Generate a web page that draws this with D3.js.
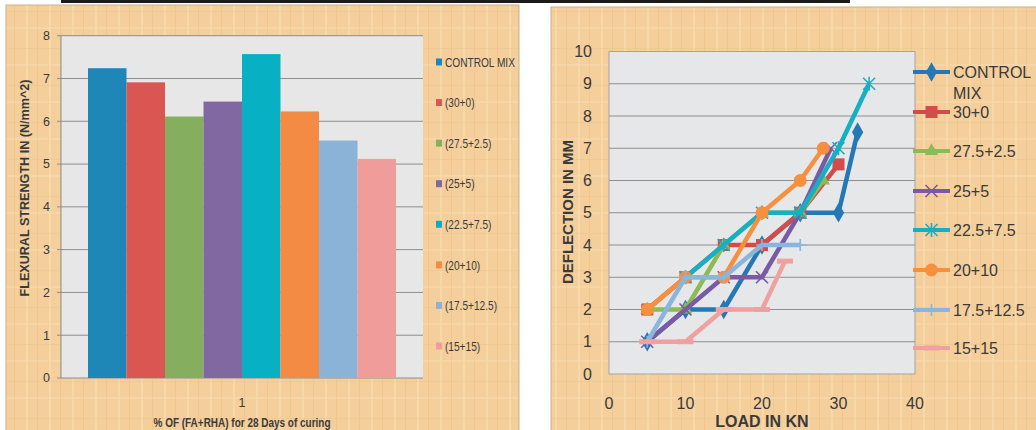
<!DOCTYPE html>
<html>
<head>
<meta charset="utf-8">
<script src="https://cdn.jsdelivr.net/npm/d3@7"></script>
<style>
  body { margin: 0; background: #fff; }
  text { fill: #3a3a3a; }
</style>
</head>
<body>
<div id="chart"></div>
<script>
// ---- left chart data (flexural strength, 28 days) ----
const barSeries = ["CONTROL MIX", "(30+0)", "(27.5+2.5)", "(25+5)", "(22.5+7.5)", "(20+10)", "(17.5+12.5)", "(15+15)"];
const barValues = [7.24, 6.91, 6.11, 6.46, 7.57, 6.23, 5.55, 5.12];
const barGroups = ["1"];
const barTicks = [0, 1, 2, 3, 4, 5, 6, 7, 8];
const barColors = ["#1f87b8", "#d95653", "#86ae5f", "#8268a0", "#07b1c3", "#f48b44", "#8ab3d7", "#f09c9b"];

// ---- right chart data (load vs deflection) ----
const lineNames = ["CONTROL MIX", "30+0", "27.5+2.5", "25+5", "22.5+7.5", "20+10", "17.5+12.5", "15+15"];
const loadControl = [5, 10, 15, 20, 25, 30, 32.5];
const deflControl = [1, 2, 2, 4, 5, 5, 7.5];
const load30 = [5, 10, 15, 20, 25, 30];
const defl30 = [2, 3, 4, 4, 5, 6.5];
const load27 = [5, 10, 15, 20, 25, 28];
const defl27 = [2, 2, 4, 5, 5, 6];
const load25 = [5, 10, 15, 20, 25, 29];
const defl25 = [1, 2, 3, 3, 5, 7];
const load22 = [10, 15, 20, 25, 30, 34];
const defl22 = [3, 4, 5, 5, 7, 9];
const load20 = [5, 10, 15, 20, 25, 28];
const defl20 = [2, 3, 3, 5, 6, 7];
const load17 = [5, 10, 15, 20, 25];
const defl17 = [1, 3, 3, 4, 4];
const load15 = [5, 10, 15, 20, 23];
const defl15 = [1, 1, 2, 2, 3.5];
const lineColors = ["#2578b6", "#d24c49", "#8cba55", "#7b5aa5", "#17afc3", "#f68f3e", "#89b5de", "#f1a0a0"];
const lineMarkers = ["diamond", "square", "triangle", "x", "star", "circle", "plus", "dash"];
const loadTicks = [0, 10, 20, 30, 40];
const deflTicks = [0, 1, 2, 3, 4, 5, 6, 7, 8, 9, 10];

const W = 1036, H = 430;
const svg = d3.select("#chart").append("svg").attr("width", W).attr("height", H);

// wood-ish backdrop
const defs = svg.append("defs");
const pat = defs.append("pattern").attr("id", "wood").attr("patternUnits", "userSpaceOnUse")
  .attr("width", 23).attr("height", 37);
pat.append("rect").attr("width", 23).attr("height", 37).attr("fill", "#f4cf9c");
pat.append("rect").attr("x", 3).attr("width", 2).attr("height", 37).attr("fill", "#f8dcb0").attr("opacity", 0.7);
pat.append("rect").attr("x", 14).attr("width", 1).attr("height", 37).attr("fill", "#eabf86").attr("opacity", 0.6);
pat.append("rect").attr("y", 11).attr("width", 23).attr("height", 1).attr("fill", "#ecc38c").attr("opacity", 0.5);
pat.append("rect").attr("y", 27).attr("width", 23).attr("height", 2).attr("fill", "#f8dbb0").attr("opacity", 0.5);

svg.append("rect").attr("x", 6).attr("y", 5).attr("width", 513).attr("height", 430)
  .attr("fill", "url(#wood)").attr("stroke", "#c9b08c").attr("stroke-width", 1);
svg.append("rect").attr("x", 551).attr("y", 7).attr("width", 490).attr("height", 430)
  .attr("fill", "url(#wood)").attr("stroke", "#c9b08c").attr("stroke-width", 1);
svg.append("rect").attr("x", 61).attr("y", 0).attr("width", 789).attr("height", 3).attr("fill", "#1b1b1b");

// ================= LEFT: bar chart =================
(function () {
  const left = 61, right = 423, top = 35.7, bottom = 378;
  const font = "Liberation Sans, Arial, sans-serif";
  const g = svg.append("g");

  const y = d3.scaleLinear().domain([0, 8]).range([bottom, top]);
  const x0 = d3.scaleBand().domain(barGroups).range([left, right]).paddingOuter(0.0877).paddingInner(0);
  const x1 = d3.scaleBand().domain(barSeries).range([0, x0.bandwidth()]);

  g.append("rect").attr("x", left).attr("y", top).attr("width", right - left).attr("height", bottom - top)
    .attr("fill", "#e7e7e8");

  g.selectAll("line.grid").data(barTicks).enter().append("line")
    .attr("x1", left - 4).attr("x2", right)
    .attr("y1", d => y(d)).attr("y2", d => y(d))
    .attr("stroke", "#8d8d8d").attr("stroke-width", 1);
  g.append("line").attr("x1", left).attr("x2", left).attr("y1", top).attr("y2", bottom)
    .attr("stroke", "#8d8d8d");

  g.selectAll("text.yt").data(barTicks).enter().append("text")
    .attr("x", 50).attr("y", d => y(d)).attr("dy", "0.35em")
    .attr("text-anchor", "end").attr("font-family", font)
    .attr("font-size", 12.5).text(d => d);

  barGroups.forEach(grp => {
    g.selectAll("rect.bar").data(barSeries).enter().append("rect")
      .attr("x", d => x0(grp) + x1(d)).attr("width", x1.bandwidth())
      .attr("y", (d, i) => y(barValues[i])).attr("height", (d, i) => bottom - y(barValues[i]))
      .attr("fill", (d, i) => barColors[i]);
    g.append("text").attr("x", x0(grp) + x0.bandwidth() / 2).attr("y", 403).attr("dy", "0.35em")
      .attr("text-anchor", "middle").attr("font-family", font)
      .attr("font-size", 12.5).text(grp);
  });

  g.append("text").attr("x", 242).attr("y", 427).attr("text-anchor", "middle")
    .attr("font-family", font).attr("font-weight", "bold")
    .attr("font-size", 13).attr("textLength", 177).attr("lengthAdjust", "spacingAndGlyphs")
    .text("% OF (FA+RHA) for 28 Days of curing");

  g.append("text").attr("transform", "translate(29,188) rotate(-90)").attr("text-anchor", "middle")
    .attr("font-family", font).attr("font-weight", "bold")
    .attr("font-size", 12.5).attr("textLength", 217).attr("lengthAdjust", "spacingAndGlyphs")
    .text("FLEXURAL STRENGTH IN (N/mm^2)");

  // legend
  const ly = d3.scalePoint().domain(barSeries).range([62, 346]);
  const lg = g.selectAll("g.leg").data(barSeries).enter().append("g")
    .attr("transform", d => "translate(436," + ly(d) + ")");
  lg.append("rect").attr("x", 0).attr("y", -3.5).attr("width", 6).attr("height", 7)
    .attr("fill", (d, i) => barColors[i]);
  lg.append("text").attr("transform", "translate(9,0) scale(0.75,1)").attr("dy", "0.35em")
    .attr("font-family", font).attr("font-size", 13.5).text(d => d);
})();

// ================= RIGHT: line chart =================
(function () {
  const left = 609, right = 915, top = 51.5, bottom = 374;
  const g = svg.append("g");
  const x = d3.scaleLinear().domain([0, 40]).range([left, right]);
  const y = d3.scaleLinear().domain([0, 10]).range([bottom, top]);

  g.append("rect").attr("x", left).attr("y", top).attr("width", right - left).attr("height", bottom - top)
    .attr("fill", "#e6e7e8").attr("stroke", "#a3a3a3");
  g.selectAll("line.grid").data(deflTicks.slice(1, -1)).enter().append("line")
    .attr("x1", left).attr("x2", right).attr("y1", d => y(d)).attr("y2", d => y(d))
    .attr("stroke", "#8e8e8e");

  const font = "Liberation Sans, Arial, sans-serif";
  g.selectAll("text.yt").data(deflTicks).enter().append("text")
    .attr("x", 592).attr("y", d => y(d)).attr("dy", "0.35em").attr("text-anchor", "end")
    .attr("font-family", font).attr("font-size", 16).text(d => d);
  g.selectAll("text.xt").data(loadTicks).enter().append("text")
    .attr("x", d => x(d)).attr("y", 403).attr("dy", "0.35em").attr("text-anchor", "middle")
    .attr("font-family", font).attr("font-size", 16).text(d => d);
  g.append("text").attr("x", 762).attr("y", 427).attr("text-anchor", "middle")
    .attr("font-family", font).attr("font-weight", "bold").attr("font-size", 16).text("LOAD IN KN");
  g.append("text").attr("transform", "translate(573,212) rotate(-90)").attr("text-anchor", "middle")
    .attr("font-family", font).attr("font-weight", "bold").attr("font-size", 15).text("DEFLECTION IN MM");

  const loads = [loadControl, load30, load27, load25, load22, load20, load17, load15];
  const defls = [deflControl, defl30, defl27, defl25, defl22, defl20, defl17, defl15];
  const series = lineNames.map((name, i) => ({
    name, color: lineColors[i], marker: lineMarkers[i],
    values: loads[i].map((l, j) => ({ x: l, y: defls[i][j] }))
  }));

  function drawMarker(sel, kind, color) {
    if (kind === "diamond") {
      sel.append("path").attr("d", d3.symbol(d3.symbolDiamond, 110)).attr("fill", color);
    } else if (kind === "square") {
      sel.append("rect").attr("x", -6).attr("y", -6).attr("width", 12).attr("height", 12).attr("fill", color);
    } else if (kind === "triangle") {
      sel.append("path").attr("d", d3.symbol(d3.symbolTriangle, 80)).attr("fill", color);
    } else if (kind === "x") {
      sel.append("path").attr("d", "M-6,-6L6,6M-6,6L6,-6").attr("stroke", color).attr("stroke-width", 1.6);
    } else if (kind === "star") {
      sel.append("path").attr("d", "M-6,-6L6,6M-6,6L6,-6M0,-7L0,7").attr("stroke", color).attr("stroke-width", 1.6);
    } else if (kind === "circle") {
      sel.append("circle").attr("r", 6.5).attr("fill", color);
    } else if (kind === "plus") {
      sel.append("path").attr("d", "M0,-6L0,6M-6,0L6,0").attr("stroke", color).attr("stroke-width", 1.6);
    } else if (kind === "dash") {
      sel.append("rect").attr("x", -8).attr("y", -2.5).attr("width", 16).attr("height", 5).attr("fill", color);
    }
  }

  const line = d3.line().x(d => x(d.x)).y(d => y(d.y));
  series.forEach(s => {
    const sg = g.append("g");
    sg.append("path").datum(s.values).attr("d", line).attr("fill", "none")
      .attr("stroke", s.color).attr("stroke-width", 4.5).attr("stroke-linejoin", "round");
    s.values.forEach(v => {
      const m = sg.append("g").attr("transform", "translate(" + x(v.x) + "," + y(v.y) + ")");
      drawMarker(m, s.marker, s.color);
    });
  });

  // legend
  const legY = [72, 112, 151, 191, 230, 270, 310, 348];
  series.forEach((s, i) => {
    const lg = g.append("g").attr("transform", "translate(0," + legY[i] + ")");
    lg.append("line").attr("x1", 913).attr("x2", 950).attr("stroke", s.color).attr("stroke-width", 4);
    const m = lg.append("g").attr("transform", "translate(931.5,0)");
    drawMarker(m, s.marker, s.color);
    const t = lg.append("text").attr("x", 953).attr("dy", "0.35em")
      .attr("font-family", font).attr("font-size", 16);
    if (s.name === "CONTROL MIX") {
      t.append("tspan").attr("x", 953).text("CONTROL");
      t.append("tspan").attr("x", 953).attr("dy", 21).text("MIX");
    } else {
      t.text(s.name);
    }
  });
})();
</script>
</body>
</html>
